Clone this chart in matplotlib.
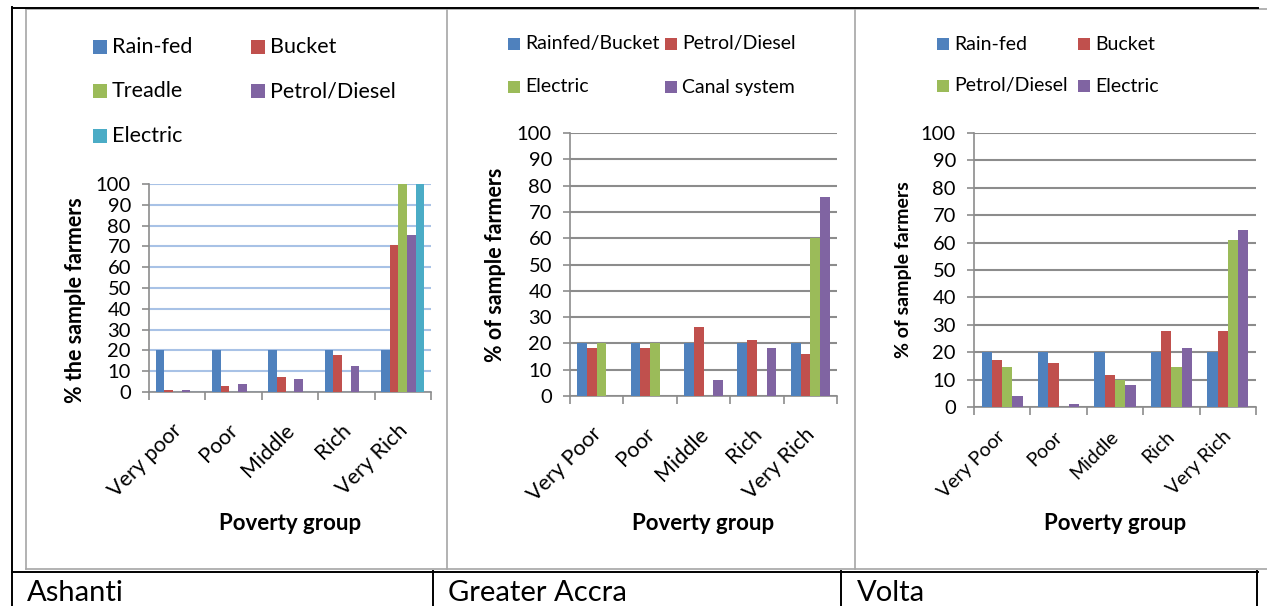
import numpy as np
import matplotlib.pyplot as plt
from matplotlib.lines import Line2D
from matplotlib.patches import Rectangle

plt.rcParams['font.family'] = ['Lato', 'DejaVu Sans']

W, H = 1267, 606

groups_ashanti = ['Very poor', 'Poor', 'Middle', 'Rich', 'Very Rich']
groups = ['Very Poor', 'Poor', 'Middle', 'Rich', 'Very Rich']

# Ashanti
ashanti_labels = ['Rain-fed', 'Bucket', 'Treadle', 'Petrol/Diesel', 'Electric']
ashanti_rainfed = [20, 20, 20, 20, 20]
ashanti_bucket = [0.8, 2.9, 7.2, 17.6, 70.7]
ashanti_treadle = [0, 0, 0, 0, 100]
ashanti_petrol = [1.1, 3.7, 6.4, 12.7, 75.5]
ashanti_electric = [0, 0, 0, 0, 100]

# Greater Accra
accra_labels = ['Rainfed/Bucket', 'Petrol/Diesel', 'Electric', 'Canal system']
accra_rainfed = [20, 20, 20, 20, 20]
accra_petrol = [18.4, 18.4, 26.3, 21.2, 15.8]
accra_electric = [20, 20, 0, 0, 60]
accra_canal = [0, 0, 6, 18.2, 75.8]

# Volta
volta_labels = ['Rain-fed', 'Bucket', 'Petrol/Diesel', 'Electric']
volta_rainfed = [20, 20, 20, 20, 20]
volta_bucket = [17.2, 16, 11.5, 27.6, 27.6]
volta_petrol = [14.5, 0, 9.8, 14.5, 61]
volta_electric = [4, 1.2, 8.2, 21.5, 64.5]

regions = ['Ashanti', 'Greater Accra', 'Volta']

colors = ['#4f81bd', '#c0504d', '#9bbb59', '#8064a2', '#4bacc6']
gray = '#8c8c8c'


def fx(x):
    return x / W


def fy(y):
    return 1 - y / H


def px_axes(fig, left, top, right, bottom):
    return fig.add_axes([fx(left), fy(bottom), (right - left) / W, (bottom - top) / H])


def px_line(fig, x0, y0, x1, y1, color, lw):
    fig.add_artist(Line2D([fx(x0), fx(x1)], [fy(y0), fy(y1)],
                          transform=fig.transFigure, color=color, lw=lw))


def draw_legend(fig, labels, cols, xs, ys, box, size):
    for i, lab in enumerate(labels):
        x, y = xs[i % 2], ys[i // 2]
        fig.add_artist(Rectangle((fx(x), fy(y + box / 2)), box / W, box / H,
                                 transform=fig.transFigure, color=cols[i], lw=0))
        fig.text(fx(x + box + 5), fy(y), lab, fontsize=size, va='center', ha='left')


def bar_panel(ax, series, names, grid_color, ylabel, ylab_size, cat_size, cat_pad):
    n = len(series)
    w = 1 / (n + 1.5)
    x = np.arange(5)
    for i, vals in enumerate(series):
        ax.bar(x + (i - (n - 1) / 2) * w, vals, w, color=colors[i], zorder=3)
    ax.set_xlim(-0.5, 4.5)
    ax.set_ylim(0, 100)
    ax.set_yticks(range(0, 101, 10))
    ax.yaxis.grid(True, color=grid_color, lw=1.5, zorder=0)
    ax.set_axisbelow(True)
    # boundary ticks between groups, slanted names just left of each group centre
    ax.set_xticks(np.arange(-0.5, 5, 1))
    ax.set_xticklabels([])
    ax.set_xticks(x - 0.1, minor=True)
    ax.set_xticklabels(names, minor=True, rotation=45, ha='right', va='top',
                       rotation_mode='anchor', fontsize=cat_size)
    ax.tick_params(axis='x', which='major', length=6, width=1.2, color=gray)
    ax.tick_params(axis='x', which='minor', length=0, pad=cat_pad)
    ax.tick_params(axis='y', length=5, width=1.2, color=gray, pad=8, labelsize=14.5)
    for s in ['top', 'right']:
        ax.spines[s].set_visible(False)
    for s in ['left', 'bottom']:
        ax.spines[s].set_color(gray)
        ax.spines[s].set_linewidth(1.2)
    ax.set_xlabel('Poverty group', fontsize=16, fontweight='bold')
    ax.xaxis.label.set_va('center')
    ax.set_ylabel(ylabel, fontsize=ylab_size, fontweight='bold')
    ax.yaxis.label.set_va('center')


fig = plt.figure(figsize=(W / 100, H / 100), dpi=100)

# Ashanti
ax1 = px_axes(fig, 149, 184, 431, 392)
bar_panel(ax1, [ashanti_rainfed, ashanti_bucket, ashanti_treadle, ashanti_petrol, ashanti_electric],
          groups_ashanti, '#a8c2e6', '% the sample farmers', 15.5, 15.5, 20)
ax1.xaxis.set_label_coords(0.5, (392 - 523) / 208)
ax1.yaxis.set_label_coords((75 - 149) / 282, (392 - 300) / 208)
draw_legend(fig, ashanti_labels, colors, [93, 251], [47, 91, 136], 14, 15.5)

# Greater Accra
ax2 = px_axes(fig, 570, 133, 837, 396)
bar_panel(ax2, [accra_rainfed, accra_petrol, accra_electric, accra_canal],
          groups, gray, '% of sample farmers', 15.5, 15.5, 20)
ax2.xaxis.set_label_coords((703 - 570) / 267, (396 - 523) / 263)
ax2.yaxis.set_label_coords((496 - 570) / 267, 0.5)
draw_legend(fig, accra_labels, colors, [508, 665], [44, 87], 12, 14)

# Volta
ax3 = px_axes(fig, 974, 133, 1256, 407)
bar_panel(ax3, [volta_rainfed, volta_bucket, volta_petrol, volta_electric],
          groups, gray, '% of sample farmers', 14, 14, 15)
ax3.xaxis.set_label_coords((1115 - 974) / 282, (407 - 523) / 274)
ax3.yaxis.set_label_coords((903 - 974) / 282, 0.5)
draw_legend(fig, volta_labels, colors, [937, 1078], [44, 86], 12, 14)

# chart frames
frame = '#a6a6a6'
px_line(fig, 26, 9, W, 9, frame, 1.2)
px_line(fig, 26, 569, W, 569, frame, 1.2)
for xv in [26, 447, 855]:
    px_line(fig, xv, 9, xv, 569, frame, 1.2)

# table rules
px_line(fig, 12, 7.5, 1258, 7.5, 'black', 1.4)
px_line(fig, 12, 7, 12, H, 'black', 1.4)
px_line(fig, 12, 571.5, 1258, 571.5, 'black', 1.4)
for xv in [433, 841, 1257]:
    px_line(fig, xv, 571, xv, H, 'black', 1.4)

for xv, name in zip([27, 448, 857], regions):
    fig.text(fx(xv), fy(601), name, fontsize=21, va='baseline', ha='left')

fig.savefig('out.png', dpi=100)
